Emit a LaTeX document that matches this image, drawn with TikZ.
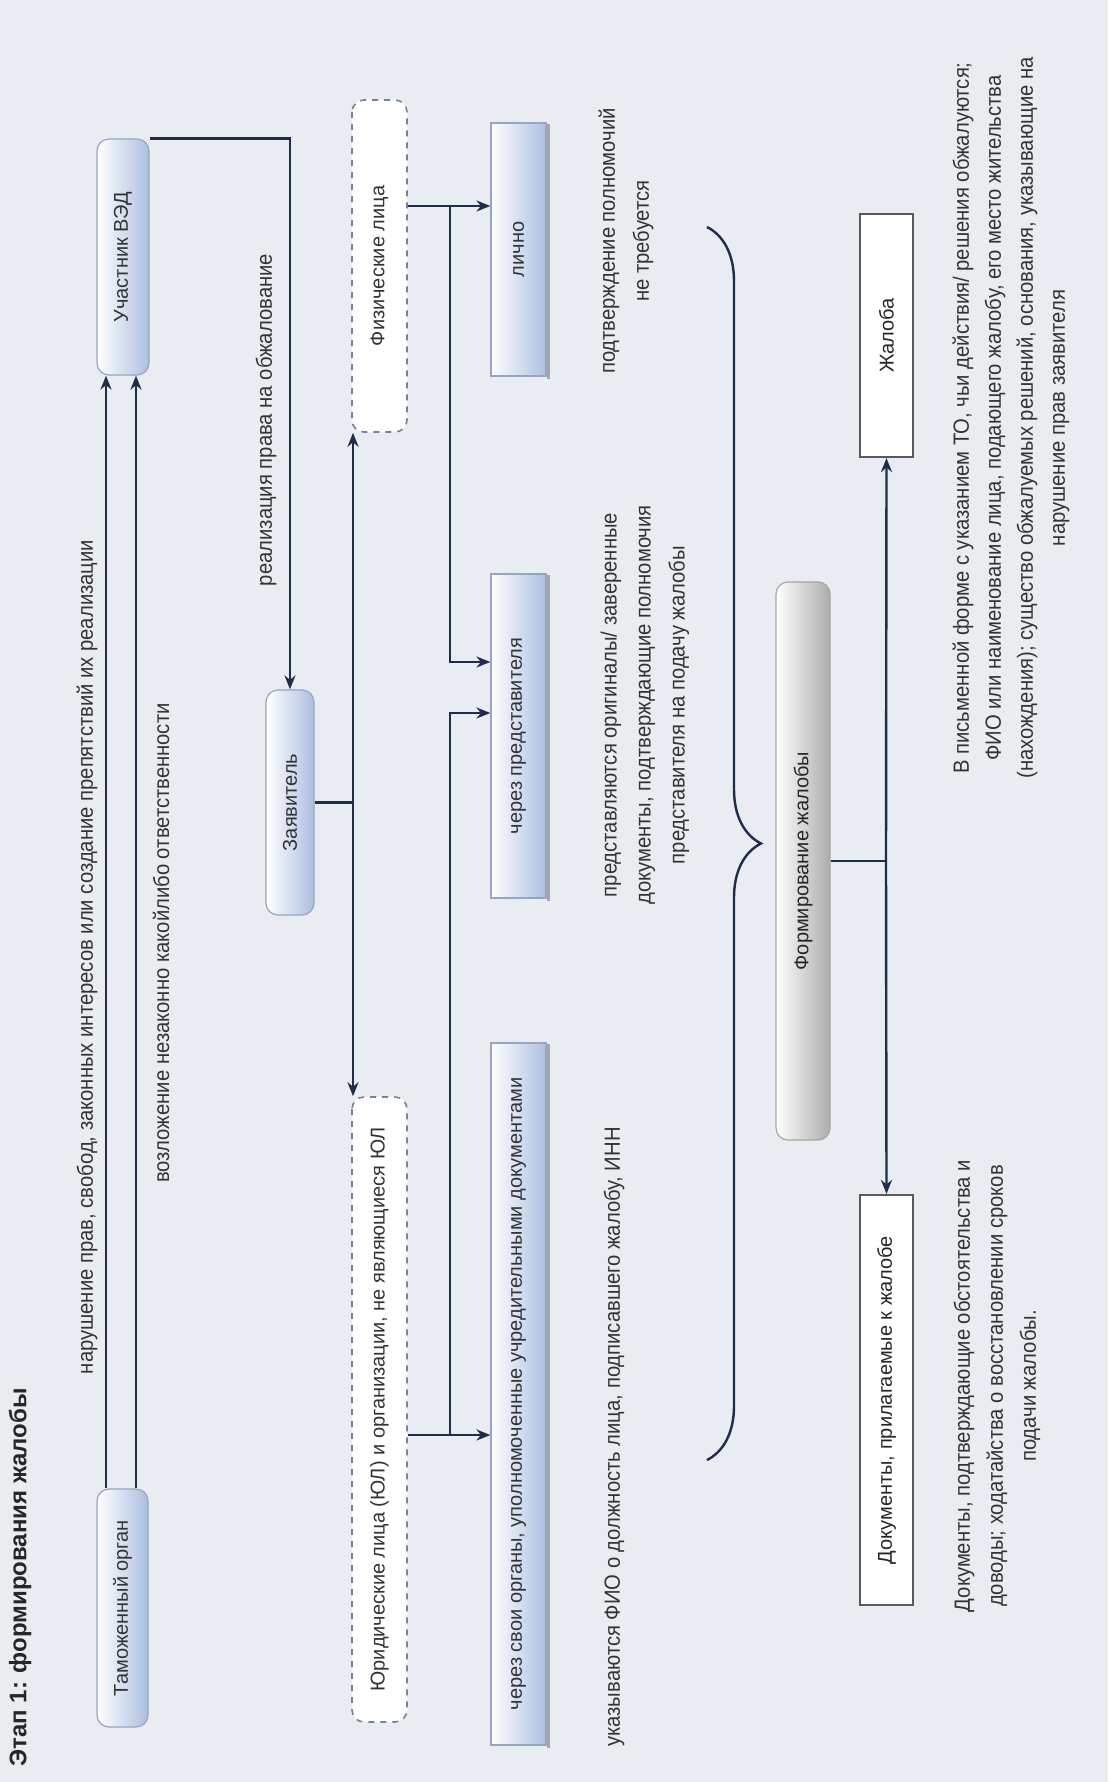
\documentclass[tikz,border=0pt]{standalone}
\usepackage{fontspec}
\setmainfont{Liberation Sans}
\newfontfamily\narrowfont[FakeStretch=0.92]{Liberation Sans}
\usetikzlibrary{arrows.meta,decorations.pathreplacing}

\begin{document}
\begin{tikzpicture}[x=0.5pt, y=-0.5pt, font=\fontsize{10}{12}\selectfont,
  bluebox/.style={rotate=90, draw=boxedge, line width=0.6pt, rounded corners=6pt,
    left color=white, right color=boxblue, text=black!80, inner sep=2pt},
  plainbox/.style={rotate=90, draw=boxedge, line width=0.6pt,
    left color=white, right color=boxblue, text=black!80, inner sep=2pt},
  dashbox/.style={rotate=90, draw=dashedge, dashed, line width=0.8pt, rounded corners=6pt,
    fill=white, text=black!80, inner sep=2pt},
  graybox/.style={rotate=90, draw=gray!70, line width=0.6pt, rounded corners=6pt,
    left color=white, right color=gray!65, text=black!85, inner sep=2pt},
  whitebox/.style={rotate=90, draw=black!65, line width=1.1pt, fill=white,
    text=black!85, inner sep=2pt},
  lbl/.style={rotate=90, align=center, text=black!80,
    font=\narrowfont\fontsize{11}{17}\selectfont},
  link/.style={line width=1.2pt, draw=linkc},
  arr/.style={link, -{Stealth[length=7pt, width=5.5pt]}}]
% Colors
\definecolor{paper}{RGB}{233,236,240}
\definecolor{boxblue}{RGB}{172,191,224}
\definecolor{boxedge}{RGB}{150,165,195}
\definecolor{dashedge}{RGB}{120,130,150}
\definecolor{linkc}{RGB}{30,45,75}

% Background
\fill[paper] (0,0) rectangle (1108,1782);
\useasboundingbox (0,0) rectangle (1108,1782);

% Title
\node[rotate=90, anchor=west, inner sep=0pt, font=\bfseries\fontsize{12}{15}\selectfont, text=black!85] (ttl) at (20,1767) {Этап 1: формирования жалобы};

% Participants
\node[bluebox, minimum width=119pt, minimum height=25.5pt] (tam) at (122.5,1608) {Таможенный орган};
\node[bluebox, minimum width=118pt, minimum height=26pt] (uch) at (123,257) {Участник ВЭД};
\node[bluebox, minimum width=112.5pt, minimum height=24pt] (zay) at (290,802.5) {Заявитель};

% Who files
\node[dashbox, minimum width=166pt, minimum height=27.5pt] (fiz) at (379.5,266) {Физические лица};
\node[dashbox, minimum width=312.5pt, minimum height=27.5pt] (yur) at (379.5,1409.5) {Юридические лица (ЮЛ) и организации, не являющиеся ЮЛ};

% How they file
\node[plainbox, minimum width=126.5pt, minimum height=27.5pt] (lich) at (518.5,249.5) {лично};
\node[plainbox, minimum width=162pt, minimum height=27.5pt] (pred) at (518.5,736) {через представителя};
\node[plainbox, minimum width=351pt, minimum height=27.5pt] (organ) at (518.5,1394) {через свои органы, уполномоченные учредительными документами};
% shadow on the right edge
\foreach \n in {lich,pred,organ}{
  \draw[line width=1.6pt, black!35] ([xshift=1pt, yshift=-1pt]\n.south west) -- ([xshift=1pt, yshift=-1pt]\n.south east);
}

% Complaint
\node[graybox, minimum width=279pt, minimum height=27pt] (form) at (803,861) {Формирование жалобы};
\node[whitebox, minimum width=121.5pt, minimum height=26.5pt] (zhal) at (886.5,335.5) {Жалоба};
\node[whitebox, minimum width=205pt, minimum height=26.5pt] (docs) at (886.5,1400) {Документы, прилагаемые к жалобе};

% Labels
\node[lbl] (viol) at (87,957) {нарушение прав, свобод, законных интересов или создание препятствий их реализации};
\node[lbl] (resp) at (161,943) {возложение незаконно какойлибо ответственности};
\node[lbl] (appeal) at (266,420) {реализация права на обжалование};
\node[lbl] (noauth) at (626,241) {подтверждение полномочий\\не требуется};
\node[lbl] (auth) at (645,705) {представляются оригиналы/ заверенные\\документы, подтверждающие полномочия\\представителя на подачу жалобы};
\node[lbl] (inn) at (614,1437) {указываются ФИО о должность лица, подписавшего жалобу, ИНН};
\node[lbl, font=\narrowfont\fontsize{11}{16}\selectfont] (claim) at (1011,418) {В письменной форме с указанием ТО, чьи действия/ решения обжалуются;\\ФИО или наименование лица, подающего жалобу, его место жительства\\(нахождения); существо обжалуемых решений, основания, указывающие на\\нарушение прав заявителя};
\node[lbl, font=\narrowfont\fontsize{11}{16.5}\selectfont] (attach) at (997,1386) {Документы, подтверждающие обстоятельства и\\доводы; ходатайства о восстановлении сроков\\подачи жалобы.};

% Customs body -> participant
\draw[arr] (106,0 |- tam.east) -- (106,0 |- uch.west);
\draw[arr] (136,0 |- tam.east) -- (136,0 |- uch.west);

% Participant -> applicant
\draw[arr] (uch.south east) -| (zay.east);

% Applicant -> persons
\coordinate (split) at (353,0 |- zay.south);
\draw[link] (zay.south) -- (split);
\draw[arr] (split) -- (353,0 |- fiz.west);
\draw[arr] (split) -- (353,0 |- yur.east);

% Persons -> ways of filing
\coordinate (fizjoin) at (450,206);
\coordinate (yurjoin) at (450,1435);
\draw[arr] (fiz.south |- fizjoin) -- (lich.north |- fizjoin);
\draw[arr] (fizjoin) |- (pred.north |- 0,662);
\draw[arr] (yur.south |- yurjoin) -- (organ.north |- yurjoin);
\draw[arr] (yurjoin) |- (pred.north |- 0,713);

% Brace
\draw[link, decorate, decoration={brace, amplitude=27pt}] (707,227) -- (707,1460);

% Complaint parts
\coordinate (formjoin) at (886,0 |- form.south);
\draw[link] (form.south) -- (formjoin);
\draw[arr] (formjoin) -- (zhal.west);
\draw[arr] (formjoin) -- (docs.east);

\end{tikzpicture}
\end{document}
